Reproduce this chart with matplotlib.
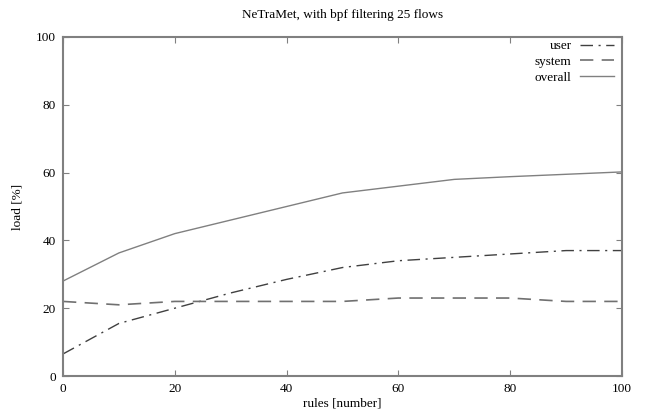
import numpy as np
import matplotlib
matplotlib.use("Agg")
import matplotlib.pyplot as plt

plt.rcParams['font.family'] = ['Liberation Serif', 'DejaVu Serif']

rules = [0, 10, 20, 30, 40, 50, 60, 70, 80, 90, 100]
user = [6.5, 15.5, 20, 24.5, 28.5, 32, 34, 35, 36, 37, 37]
system = [22, 21, 22, 22, 22, 22, 23, 23, 23, 22, 22]
overall = [28, 36.3, 42, 46, 50, 54, 56, 58, 58.8, 59.5, 60.2]

fig = plt.figure(figsize=(6.48, 4.17), dpi=100)
ax = fig.add_axes([0.0972, 0.0983, 0.8627, 0.813])

gray = '#808080'
ax.plot(rules, user, color='#404040', lw=1.0, linestyle=(0, (9, 4, 1.5, 4)), label='user')
ax.plot(rules, system, color='#707070', lw=1.2, linestyle=(0, (8, 5)), label='system')
ax.plot(rules, overall, color='#808080', lw=1.0, linestyle='-', label='overall')

ax.set_xlim(0, 100)
ax.set_ylim(0, 100)
ax.set_xticks(np.arange(0, 101, 20))
ax.set_yticks(np.arange(0, 101, 20))
ax.tick_params(direction='in', top=True, right=True, length=4, color=gray,
               labelsize=9.5, pad=5)
for s in ax.spines.values():
    s.set_color(gray)
    s.set_linewidth(1.5)

ax.set_title('NeTraMet, with bpf filtering 25 flows', fontsize=9.5, pad=14)
ax.set_xlabel('rules [number]', fontsize=9.5, labelpad=2)
ax.set_ylabel('load [%]', fontsize=9.5, labelpad=9)

leg = ax.legend(loc='upper right', bbox_to_anchor=(0.995, 1.006), frameon=False,
                markerfirst=False, fontsize=9.5, handlelength=2.6,
                labelspacing=0.25, borderaxespad=0, handletextpad=0.6)

fig.savefig('out.png', dpi=100)
